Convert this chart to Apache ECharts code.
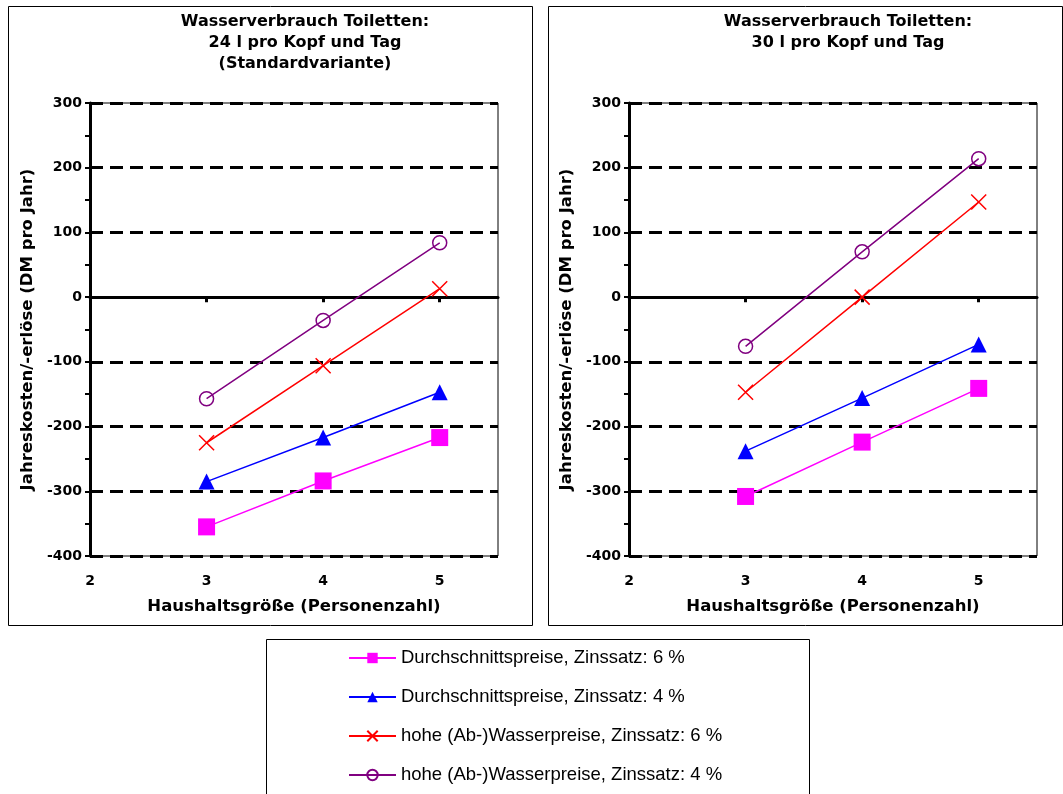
<!DOCTYPE html>
<html>
<head>
<meta charset="utf-8">
<script src="https://cdn.jsdelivr.net/npm/echarts@6/dist/echarts.min.js"></script>
<style>
html,body{margin:0;padding:0;background:#fff;}
#chart{width:1063px;height:794px;}
</style>
</head>
<body>
<div id="chart"></div>
<script>
// ---- data ----
const xValues = [3, 4, 5];
const xLabelTicks = [2, 3, 4, 5];
const xMarkTicks = [3, 4, 5];
const seriesNames = [
  'Durchschnittspreise, Zinssatz: 6 %',
  'Durchschnittspreise, Zinssatz: 4 %',
  'hohe (Ab-)Wasserpreise, Zinssatz: 6 %',
  'hohe (Ab-)Wasserpreise, Zinssatz: 4 %'
];
// left chart: 24 l pro Kopf und Tag
const left_avg6  = [-355, -284, -217];
const left_avg4  = [-285, -217, -147];
const left_high6 = [-225, -106, 13];
const left_high4 = [-157, -36, 84];
// right chart: 30 l pro Kopf und Tag
const right_avg6  = [-308, -224, -141];
const right_avg4  = [-238, -156, -73];
const right_high6 = [-147, 0, 147];
const right_high4 = [-76, 70, 214];
const titles = [
  'Wasserverbrauch Toiletten:\n24 l pro Kopf und Tag\n(Standardvariante)',
  'Wasserverbrauch Toiletten:\n30 l pro Kopf und Tag'
];
const yTitle = 'Jahreskosten/-erlöse (DM pro Jahr)';
const xTitle = 'Haushaltsgröße (Personenzahl)';

// ---- styling ----
const boldFont = 'DejaVu Sans';
const colors = ['#FF00FF', '#0000FF', '#FF0000', '#800080'];
const symbols = ['rect', 'triangle', 'path://M0,0L10,10M10,0L0,10', 'circle'];
const symbolSizes = [17, 16, 15, 14];

function pairs(vals) { return xValues.map((x, i) => [x, vals[i]]); }

const grids = [
  {left: 90, top: 103, width: 408, height: 453},
  {left: 629, top: 103, width: 408, height: 453}
];

const xAxes = [], yAxes = [], series = [];
grids.forEach((g, gi) => {
  // zero-line axis with ticks
  xAxes.push({
    type: 'value', gridIndex: gi, min: 2, max: 5.5, interval: 1,
    position: 'bottom',
    axisLine: {show: true, onZero: true, lineStyle: {color: '#000', width: 3}},
    axisTick: {show: true, length: 5, customValues: xMarkTicks, lineStyle: {color: '#000', width: 3}},
    axisLabel: {show: false},
    splitLine: {show: false}
  });
  // bottom label axis
  xAxes.push({
    type: 'value', gridIndex: gi, min: 2, max: 5.5, interval: 1,
    position: 'bottom',
    axisLine: {show: false, onZero: false},
    axisTick: {show: false},
    axisLabel: {show: true, customValues: xLabelTicks, margin: 18,
      fontFamily: boldFont, fontWeight: 'bold', fontSize: 14, color: '#000'},
    splitLine: {show: false},
    name: xTitle, nameLocation: 'middle', nameGap: 42,
    nameTextStyle: {fontFamily: boldFont, fontWeight: 'bold', fontSize: 16.5, color: '#000'}
  });
  yAxes.push({
    type: 'value', gridIndex: gi, min: -400, max: 300, interval: 100,
    axisLine: {show: true, onZero: false, lineStyle: {color: '#000', width: 3}},
    axisTick: {show: true, length: 5, lineStyle: {color: '#000', width: 2}},
    minorTick: {show: true, splitNumber: 2, length: 5, lineStyle: {color: '#000', width: 2}},
    axisLabel: {margin: 8, fontFamily: boldFont, fontWeight: 'bold', fontSize: 14, color: '#000'},
    splitLine: {show: true, lineStyle: {color: '#000', width: 3, type: [13, 7]}},
    name: yTitle, nameLocation: 'middle', nameGap: 54, nameRotate: 90,
    nameTextStyle: {fontFamily: boldFont, fontWeight: 'bold', fontSize: 16.5, color: '#000'}
  });
});

const dataSets = [
  [left_avg6, left_avg4, left_high6, left_high4],
  [right_avg6, right_avg4, right_high6, right_high4]
];
dataSets.forEach((sets, gi) => {
  sets.forEach((vals, si) => {
    const hollow = si >= 2;
    series.push({
      name: seriesNames[si],
      type: 'line',
      xAxisIndex: gi * 2,
      yAxisIndex: gi,
      data: pairs(vals),
      symbol: symbols[si],
      symbolSize: symbolSizes[si],
      showAllSymbol: true,
      lineStyle: {color: colors[si], width: 1.5},
      itemStyle: hollow
        ? {color: 'rgba(0,0,0,0)', borderColor: colors[si], borderWidth: 1.5}
        : {color: colors[si], borderWidth: 0},
      emphasis: {disabled: true},
      z: 3 + si,
      animation: false
    });
  });
});

const chart = echarts.init(document.getElementById('chart'));
chart.setOption({
  animation: false,
  backgroundColor: '#fff',
  title: [
    {text: titles[0], left: 305, top: 11, textAlign: 'center', padding: 0,
     textStyle: {fontFamily: boldFont, fontWeight: 'bold', fontSize: 16, lineHeight: 21, color: '#000'}},
    {text: titles[1], left: 848, top: 11, textAlign: 'center', padding: 0,
     textStyle: {fontFamily: boldFont, fontWeight: 'bold', fontSize: 16, lineHeight: 21, color: '#000'}}
  ],
  grid: grids.map(g => Object.assign({show: true, borderColor: '#000', borderWidth: 1, backgroundColor: 'transparent'}, g)),
  xAxis: xAxes,
  yAxis: yAxes,
  legend: {
    data: seriesNames,
    orient: 'vertical',
    left: 348, top: 648, padding: 0,
    itemWidth: 47, itemHeight: 13, itemGap: 19,
    selectedMode: false,
    textStyle: {fontFamily: 'Liberation Sans', fontSize: 18.5, color: '#000', lineHeight: 20}
  },
  graphic: [
    {type: 'rect', shape: {x: 8.5, y: 6.5, width: 524, height: 619}, style: {fill: 'none', stroke: '#000', lineWidth: 1}, silent: true},
    {type: 'rect', shape: {x: 548.5, y: 6.5, width: 514, height: 619}, style: {fill: 'none', stroke: '#000', lineWidth: 1}, silent: true},
    {type: 'rect', shape: {x: 266.5, y: 639.5, width: 543, height: 170}, style: {fill: 'none', stroke: '#000', lineWidth: 1}, silent: true}
  ],
  series: series
});
</script>
</body>
</html>
